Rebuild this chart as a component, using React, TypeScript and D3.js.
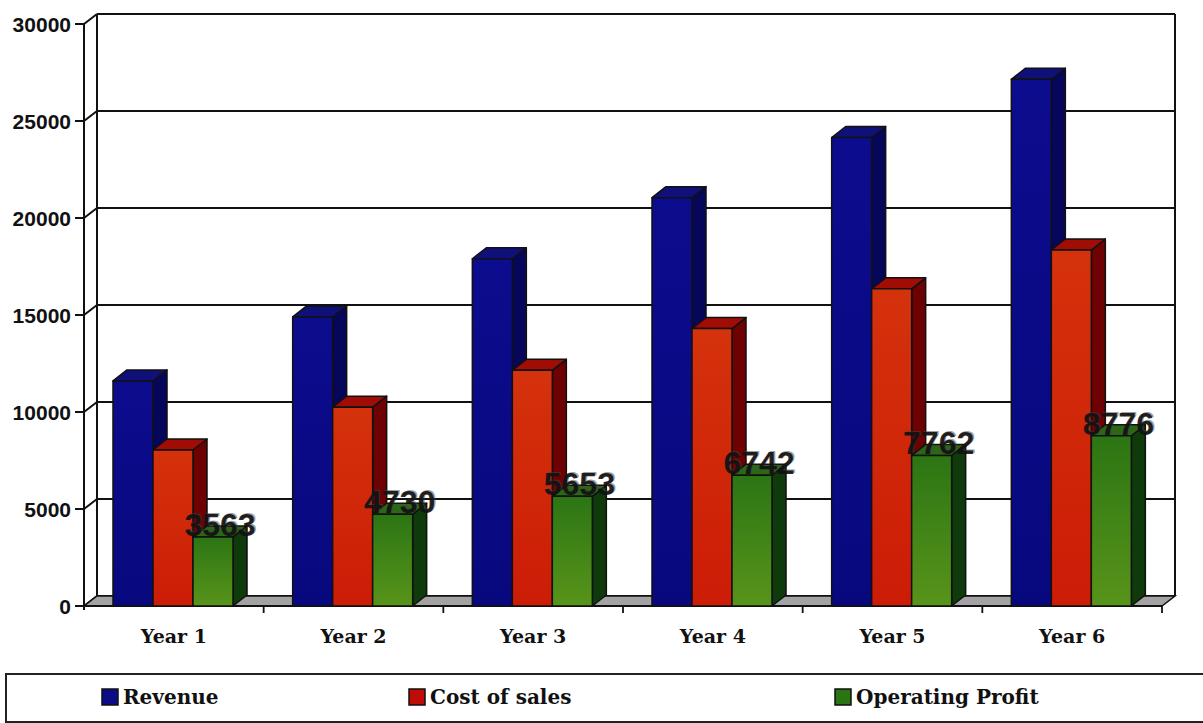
import React from "react";
import * as d3 from "d3";

// Chart data
const categories = ["Year 1", "Year 2", "Year 3", "Year 4", "Year 5", "Year 6"];
const revenue = [11600, 14900, 17900, 21050, 24150, 27150];
const costOfSales = [8040, 10250, 12150, 14300, 16350, 18350];
const operatingProfit = [3563, 4730, 5653, 6742, 7762, 8776];
const yTicks = [0, 5000, 10000, 15000, 20000, 25000, 30000];
const seriesNames = ["Revenue", "Cost of sales", "Operating Profit"];

const W = 1203;
const H = 723;

// front plane of the 3D box
const X0 = 84;
const X1 = 1162;
const Y0 = 606;
const YTOP = 24;
// depth offset of the walls
const WDX = 13;
const WDY = -10;
// depth offset of each bar
const BDX = 14;
const BDY = -11;
const BAR_W = 40;
const GROUP_OFF = 29;

const styles = [
  { front: "url(#gBlue)", top: "#10107a", side: "#06065a", swatch: "#0c0c86" },
  { front: "url(#gRed)", top: "#a10d05", side: "#6e0202", swatch: "#c00c06" },
  { front: "url(#gGreen)", top: "#2c6616", side: "#0f3a0b", swatch: "#2a7512" },
];

export default function App() {
  const y = d3.scaleLinear().domain([0, 30000]).range([Y0, YTOP]);
  const x = d3.scaleBand<string>().domain(categories).range([X0, X1]).padding(0);
  const series = [revenue, costOfSales, operatingProfit];

  const bar = (cx: number, v: number, s: number, key: string) => {
    const yt = y(v);
    const st = styles[s];
    const front = `M${cx},${yt}H${cx + BAR_W}V${Y0}H${cx}Z`;
    const top = `M${cx},${yt}L${cx + BDX},${yt + BDY}H${cx + BAR_W + BDX}L${cx + BAR_W},${yt}Z`;
    const side = `M${cx + BAR_W},${yt}L${cx + BAR_W + BDX},${yt + BDY}V${Y0 + BDY}L${cx + BAR_W},${Y0}Z`;
    return (
      <g key={key} stroke="#111" strokeWidth={1.5} strokeLinejoin="round">
        <path d={side} fill={st.side} />
        <path d={top} fill={st.top} />
        <path d={front} fill={st.front} />
      </g>
    );
  };

  const floor = `M${X0},${Y0}H${X1}L${X1 + WDX},${Y0 + WDY}H${X0 + WDX}Z`;

  const legendItems = [
    { x: 102, name: seriesNames[0], c: styles[0].swatch },
    { x: 409, name: seriesNames[1], c: styles[1].swatch },
    { x: 835, name: seriesNames[2], c: styles[2].swatch },
  ];

  return (
    <svg
      width={W}
      height={H}
      style={{ position: "fixed", left: 0, top: 0, background: "#fff" }}
    >
      <defs>
        <linearGradient id="gBlue" x1="0" y1="0" x2="0" y2="1">
          <stop offset="0" stopColor="#0c0c8e" />
          <stop offset="1" stopColor="#08087e" />
        </linearGradient>
        <linearGradient id="gRed" x1="0" y1="0" x2="0" y2="1">
          <stop offset="0" stopColor="#d4320c" />
          <stop offset="1" stopColor="#cc1c06" />
        </linearGradient>
        <linearGradient id="gGreen" x1="0" y1="0" x2="0" y2="1">
          <stop offset="0" stopColor="#2c7514" />
          <stop offset="1" stopColor="#58941a" />
        </linearGradient>
      </defs>

      {/* back wall, right wall edge and gridlines */}
      <g stroke="#111" strokeWidth={2} fill="none">
        {yTicks.map((t) => (
          <g key={t}>
            <line x1={X0 + WDX} x2={X1 + WDX} y1={y(t) + WDY} y2={y(t) + WDY} />
            <line x1={X0} x2={X0 + WDX} y1={y(t)} y2={y(t) + WDY} />
            <line x1={X0 - 9} x2={X0} y1={y(t)} y2={y(t)} />
          </g>
        ))}
        <line x1={X0 + WDX} x2={X0 + WDX} y1={y(30000) + WDY} y2={Y0 + WDY} />
        <line x1={X1 + WDX} x2={X1 + WDX} y1={y(30000) + WDY} y2={Y0 + WDY} />
        <line x1={X0} x2={X0} y1={y(30000)} y2={Y0 + 4} />
      </g>

      {/* floor */}
      <path d={floor} fill="#a3a3a3" stroke="#111" strokeWidth={1.5} />
      <line x1={X0 - 4} x2={X1} y1={Y0} y2={Y0} stroke="#111" strokeWidth={2} />

      {/* category ticks */}
      <g stroke="#111" strokeWidth={1.8}>
        {categories.map((c) => (
          <line key={c} x1={(x(c) as number) + x.bandwidth()} x2={(x(c) as number) + x.bandwidth()} y1={Y0} y2={Y0 + 7} />
        ))}
      </g>

      {/* bars */}
      {categories.map((c, i) =>
        series.map((s, k) =>
          bar((x(c) as number) + GROUP_OFF + k * BAR_W, s[i], k, `${c}-${k}`)
        )
      )}

      {/* operating profit value labels */}
      <g
        fontFamily="'Liberation Sans', Arial, sans-serif"
        fontWeight="bold"
        fontSize={32}
        textAnchor="middle"
      >
        {categories.map((c, i) => {
          const cx = (x(c) as number) + GROUP_OFF + 2 * BAR_W + (BAR_W + BDX) / 2;
          const by = y(operatingProfit[i]) - 1;
          return (
            <g key={c}>
              <text x={cx + 1.5} y={by - 1} fill="#444" opacity={0.5}>
                {operatingProfit[i]}
              </text>
              <text x={cx} y={by} fill="#111" opacity={0.9}>
                {operatingProfit[i]}
              </text>
            </g>
          );
        })}
      </g>

      {/* y tick labels */}
      <g
        fontFamily="'Liberation Sans', Arial, sans-serif"
        fontWeight="bold"
        fontSize={21}
        fill="#111"
        textAnchor="end"
      >
        {yTicks.map((t) => (
          <text key={t} x={71} y={y(t)} dy="0.36em">
            {t}
          </text>
        ))}
      </g>

      {/* category labels */}
      <g
        fontFamily="'DejaVu Serif', serif"
        fontWeight="bold"
        fontSize={19}
        fill="#111"
        textAnchor="middle"
      >
        {categories.map((c) => (
          <text key={c} x={(x(c) as number) + x.bandwidth() / 2} y={643}>
            {c}
          </text>
        ))}
      </g>

      {/* legend */}
      <rect x={6} y={674} width={1210} height={48} fill="#fff" stroke="#222" strokeWidth={2} />
      <g fontFamily="'DejaVu Serif', serif" fontWeight="bold" fontSize={20} fill="#111">
        {legendItems.map((l) => (
          <g key={l.name}>
            <rect x={l.x} y={689} width={16} height={16} fill={l.c} stroke="#111" strokeWidth={1.5} />
            <text x={l.x + 21} y={704}>
              {l.name}
            </text>
          </g>
        ))}
      </g>
    </svg>
  );
}
